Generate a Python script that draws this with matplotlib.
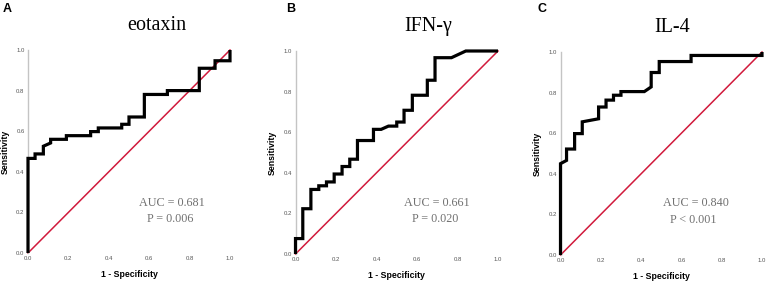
import matplotlib
matplotlib.use("Agg")
import matplotlib.pyplot as plt

# ---- data (ROC vertices) ----
eotaxin_fpr = [0, 0, 0.035, 0.035, 0.076, 0.076, 0.112, 0.112, 0.19, 0.19, 0.31, 0.31,
               0.348, 0.348, 0.464, 0.464, 0.5, 0.5, 0.576, 0.576, 0.69, 0.69,
               0.848, 0.848, 0.926, 0.926, 1.0, 1.0]
eotaxin_tpr = [0, 0.466, 0.466, 0.488, 0.488, 0.526, 0.542, 0.56, 0.56, 0.578, 0.578, 0.598,
               0.598, 0.616, 0.616, 0.634, 0.634, 0.67, 0.67, 0.781, 0.781, 0.80,
               0.80, 0.91, 0.91, 0.947, 0.947, 1.0]

ifng_fpr = [0, 0, 0.036, 0.036, 0.076, 0.076, 0.115, 0.115, 0.153, 0.153, 0.191, 0.191,
            0.23, 0.23, 0.268, 0.268, 0.306, 0.306, 0.385, 0.385, 0.423, 0.459, 0.5, 0.5,
            0.536, 0.536, 0.577, 0.577, 0.651, 0.651, 0.689, 0.689, 0.77, 0.841, 1.0]
ifng_tpr = [0, 0.076, 0.076, 0.223, 0.223, 0.318, 0.318, 0.336, 0.336, 0.355, 0.355, 0.394,
            0.394, 0.431, 0.431, 0.467, 0.467, 0.559, 0.559, 0.614, 0.614, 0.63, 0.63, 0.65,
            0.65, 0.708, 0.708, 0.782, 0.782, 0.856, 0.856, 0.967, 0.967, 1.0, 1.0]

il4_fpr = [0, 0, 0.03, 0.03, 0.07, 0.07, 0.108, 0.108, 0.189, 0.189, 0.226, 0.226,
           0.263, 0.263, 0.30, 0.30, 0.416, 0.45, 0.45, 0.49, 0.49, 0.648, 0.648, 1.0, 1.0]
il4_tpr = [0, 0.45, 0.466, 0.522, 0.522, 0.598, 0.598, 0.656, 0.671, 0.729, 0.729, 0.763,
           0.763, 0.787, 0.787, 0.805, 0.805, 0.828, 0.899, 0.899, 0.953, 0.953, 0.983, 0.983, 1.0]

titles = ["eotaxin", "IFN-γ", "IL-4"]
panel_letters = ["A", "B", "C"]
auc_texts = ["AUC = 0.681", "AUC = 0.661", "AUC = 0.840"]
p_texts = ["P = 0.006", "P = 0.020", "P < 0.001"]
tick_values = [0.0, 0.2, 0.4, 0.6, 0.8, 1.0]
tick_labels = ["0.0", "0.2", "0.4", "0.6", "0.8", "1.0"]
curves = [(eotaxin_fpr, eotaxin_tpr), (ifng_fpr, ifng_tpr), (il4_fpr, il4_tpr)]

W, H = 768, 283
fig = plt.figure(figsize=(W / 100, H / 100), dpi=100)

# axes rectangles in pixels: (left, top, right, bottom)
rects = [(28, 50, 230, 253), (295.5, 51, 498, 254), (560.5, 52, 762, 255)]
title_pos = [(0.64, 1.123), (0.655, 1.123), (0.553, 1.123)]
auc_pos = [(0.713, 0.246, 0.703, 0.167), (0.698, 0.253, 0.69, 0.172), (0.67, 0.255, 0.66, 0.172)]
letter_px = [(3, 9), (286.5, 9), (537.5, 9)]

sans = "Liberation Sans"
serif = "Liberation Serif"

for i in range(3):
    l, t, r, b = rects[i]
    ax = fig.add_axes([l / W, 1 - b / H, (r - l) / W, (b - t) / H])
    fpr, tpr = curves[i]
    ax.plot([0, 1], [0, 1], color="#d11a3c", lw=1.1, clip_on=False, zorder=2)
    ax.plot(fpr, tpr, color="black", lw=2.3, solid_joinstyle="miter",
            solid_capstyle="butt", clip_on=False, zorder=3)
    ax.set_xlim(0, 1)
    ax.set_ylim(0, 1)
    ax.set_xticks(tick_values)
    ax.set_xticklabels(tick_labels)
    ax.set_yticks(tick_values)
    ax.set_yticklabels(tick_labels)
    ax.tick_params(length=0, pad=2.5, labelsize=4.3, labelcolor="#555555")
    for lab in ax.get_xticklabels() + ax.get_yticklabels():
        lab.set_fontfamily(sans)
    for s in ["top", "right", "bottom"]:
        ax.spines[s].set_visible(False)
    ax.spines["left"].set_color("#c4c4c4")
    ax.spines["left"].set_linewidth(1.0)

    ax.text(-0.113, 0.5, "Sensitivity", transform=ax.transAxes, rotation=90,
            ha="center", va="center", fontsize=6.3, fontweight="bold", family=sans)
    ax.text(0.5, -0.108, "1 - Specificity", transform=ax.transAxes,
            ha="center", va="center", fontsize=6.3, fontweight="bold", family=sans)

    tx, ty = title_pos[i]
    ax.text(tx, ty, titles[i], transform=ax.transAxes, ha="center", va="center",
            fontsize=14.5, family=[serif, "DejaVu Serif"])

    ax_, ay_, px_, py_ = auc_pos[i]
    ax.text(ax_, ay_, auc_texts[i], transform=ax.transAxes, ha="center", va="center",
            fontsize=8.7, family=serif, color="#707070")
    ax.text(px_, py_, p_texts[i], transform=ax.transAxes, ha="center", va="center",
            fontsize=8.7, family=serif, color="#707070")

    lx, ly = letter_px[i]
    fig.text(lx / W, 1 - ly / H, panel_letters[i], ha="left", va="center",
             fontsize=9, fontweight="bold", family=sans)

fig.savefig("out.png", dpi=100)
